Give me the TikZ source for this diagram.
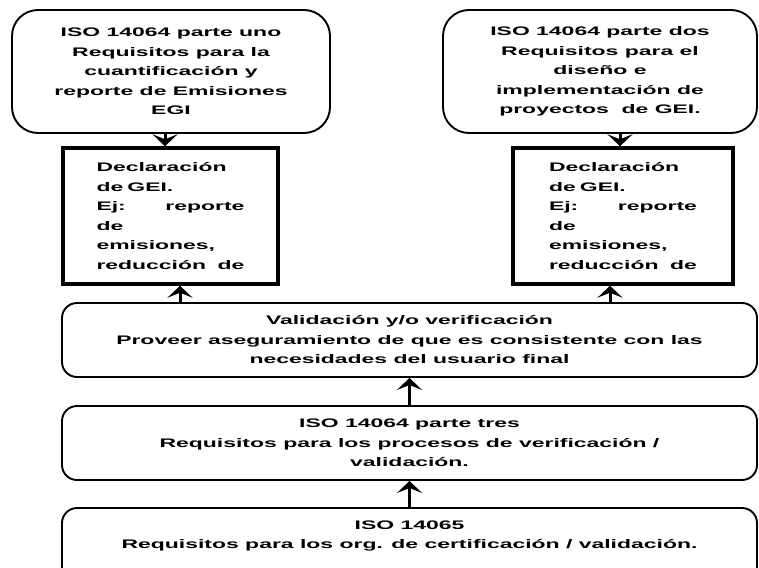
\documentclass[tikz,border=0pt]{standalone}
\usepackage{fontspec}
\newfontfamily\diafont{Liberation Sans}[FakeStretch=1.85]
\usetikzlibrary{arrows.meta}

\begin{document}
\begin{tikzpicture}[x=1pt, y=-1pt,
    font=\diafont\bfseries\fontsize{12.4}{19.5}\selectfont,
    isobox/.style={draw, line width=1.9pt, rounded corners=26pt, align=center, minimum width=#1, minimum height=123pt},
    declbox/.style={draw, line width=3.4pt, align=left, text width=148pt, minimum width=#1, minimum height=136pt},
    valbox/.style={draw, line width=1.9pt, rounded corners=15pt, align=center, minimum width=695pt, minimum height=#1},
    ar/.style={-{Stealth[length=12pt, width=25pt, inset=5pt]}, line width=3pt},
  ]
    \clip (0,0) rectangle (759,567);

    % upper row
    \node[isobox=318pt] (iso1) at (171,71.5) {ISO 14064 parte uno\\Requisitos para la\\cuantificación y\\reporte de Emisiones\\EGI};
    \node[isobox=314pt] (iso2) at (600,71.5) {ISO 14064 parte dos\\Requisitos para el\\diseño e\\implementación de\\proyectos\ \ de GEI.};

    \node[declbox=215pt] (dec1) at (170.5,216) {Declaración\\de GEI.\\Ej:\hfill reporte\\de\\emisiones,\\reducción\hfill de};
    \node[declbox=220pt] (dec2) at (623,216) {Declaración\\de GEI.\\Ej:\hfill reporte\\de\\emisiones,\\reducción\hfill de};

    % lower row
    \node[valbox=74pt] (val) at (409.5,340) {Validación y/o verificación\\Proveer aseguramiento de que es consistente con las\\necesidades del usuario final};
    \node[valbox=74pt] (iso3) at (409.5,443) {ISO 14064 parte tres\\Requisitos para los procesos de verificación /\\validación.};
    \node[valbox=82pt] (iso65) at (409.5,549) {};
    \node[align=center] (iso65t) at ([yshift=-29pt]iso65.north) {ISO 14065\\Requisitos para los org. de certificación / validación.};

    \coordinate (a1) at ([xshift=-6pt]iso1.south);
    \coordinate (a2) at ([xshift=20pt]iso2.south);
    \coordinate (b1) at ([xshift=9.5pt]dec1.south);
    \coordinate (b2) at ([xshift=-13pt]dec2.south);

    \draw[ar] (a1) -- (a1 |- dec1.north);
    \draw[ar] (a2) -- (a2 |- dec2.north);
    \draw[ar] (b1 |- val.north) -- (b1);
    \draw[ar] (b2 |- val.north) -- (b2);
    \draw[ar] (iso3.north) -- (val.south);
    \draw[ar] (iso65.north) -- (iso3.south);
  \end{tikzpicture}
\end{document}
